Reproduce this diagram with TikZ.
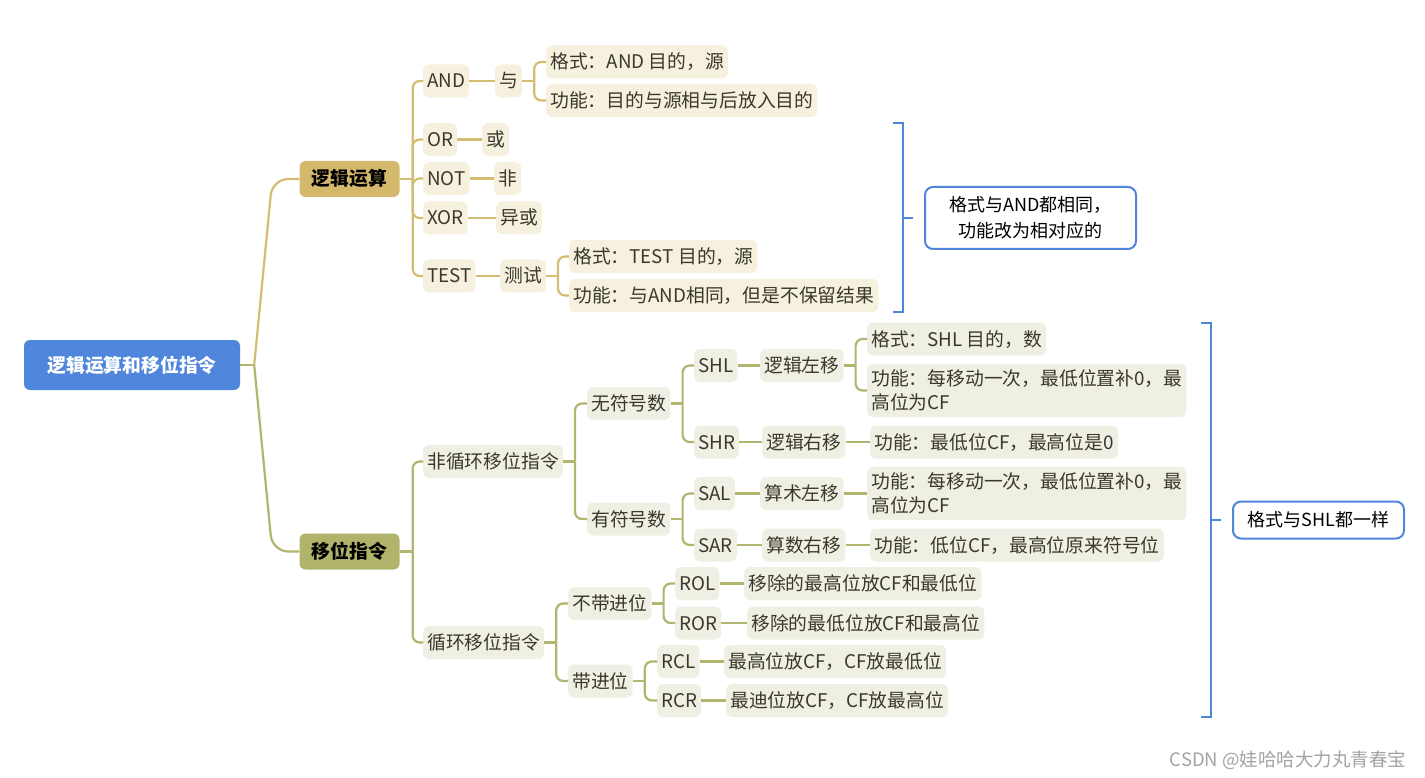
\documentclass[tikz,border=0pt]{standalone}
\usepackage{fontspec}
\newfontfamily\cjk{Noto Sans CJK SC}
\usetikzlibrary{positioning}
\definecolor{MindBlue}{HTML}{4F86DB}
\definecolor{MindGold}{HTML}{D4B96C}
\definecolor{MindOlive}{HTML}{B0B46A}
\definecolor{GoldPale}{HTML}{F6F0DF}
\definecolor{OlivePale}{HTML}{EFF0E3}
\definecolor{GoldLine}{HTML}{D4BC72}
\definecolor{OliveLine}{HTML}{B1B56E}
\definecolor{MindText}{HTML}{3A382C}
\definecolor{MarkGray}{HTML}{A3A3A3}

\begin{document}
\begin{tikzpicture}[x=1pt,y=-1pt,font=\cjk\fontsize{18.8pt}{24pt}\selectfont,
    rt/.style={rounded corners=6pt,fill=MindBlue,text=white,minimum width=216pt,minimum height=50pt,text height=16pt,text depth=2pt,font=\cjk\bfseries\fontsize{18.8pt}{22pt}\selectfont},
    tp/.style={rounded corners=6pt,minimum width=100pt,minimum height=36pt,inner sep=0pt,text height=16pt,text depth=2pt,text=black,font=\cjk\bfseries\fontsize{18.8pt}{22pt}\selectfont},
    lf/.style={anchor=west,rounded corners=6pt,inner xsep=4pt,inner ysep=0pt,minimum height=33pt,text height=16pt,text depth=2pt,text=MindText},
    lg/.style={lf,fill=GoldPale}, lo/.style={lf,fill=OlivePale},
    lo2/.style={anchor=west,rounded corners=6pt,inner xsep=4pt,inner ysep=6pt,align=left,fill=OlivePale,text=MindText},
    wg/.style={draw=GoldLine,line width=2.2pt}, wo/.style={draw=OliveLine,line width=2.2pt}, wr/.style={rounded corners=7pt},
    brk/.style={draw=MindBlue,line width=2pt},
    nt/.style={anchor=west,draw=MindBlue,line width=2pt,rounded corners=8pt,fill=white,align=center,text=black,inner sep=0pt}]
  \fill[white] (0,0) rectangle (1425,778); \useasboundingbox (0,0) rectangle (1425,778);
  % root and main branches
  \node[rt] (root) at (132,365) {逻辑运算和移位指令};
  \node[tp,fill=MindGold] (logic) at (349.5,179) {逻辑运算}; \node[tp,fill=MindOlive] (shift) at (349.5,551.5) {移位指令};
  \draw[wo] (root.east) -- ++(14,0) coordinate (rj);
  \draw[wg,rounded corners=16pt] (rj) -- ([xshift=-27pt]logic.west) -- (logic.west);
  \draw[wo,rounded corners=16pt] (rj) -- ([xshift=-27pt]shift.west) -- (shift.west);
  % logic operations
  \node[lg] (and) at (423,81) {AND}; \node[lg] (yu) at (495,81) {与};
  \node[lg] (andfmt) at (546,62) {格式：AND 目的，源}; \node[lg] (andfun) at (546,100.5) {功能：目的与源相与后放入目的};
  \node[lg] (or) at (423,139.5) {OR}; \node[lg] (huo) at (482,139.5) {或};
  \node[lg] (not) at (423,178.5) {NOT}; \node[lg] (fei) at (494,178.5) {非};
  \node[lg] (xor) at (423,218) {XOR}; \node[lg] (yihuo) at (496,218) {异或};
  \node[lg] (test) at (423,276) {TEST}; \node[lg] (ceshi) at (500,276) {测试};
  \node[lg] (testfmt) at (569,256.5) {格式：TEST 目的，源}; \node[lg] (testfun) at (569,295.5) {功能：与AND相同，但是不保留结果};
  \draw[wg] (logic.east) -- ++(13,0) coordinate (lj);
  \foreach \c in {and,or,not,xor,test} \draw[wg,wr] (lj) |- (\c.west);
  \draw[wg] (and.east) -- (yu.west); \draw[wg] (or.east) -- (huo.west); \draw[wg] (not.east) -- (fei.west);
  \draw[wg] (xor.east) -- (yihuo.west); \draw[wg] (test.east) -- (ceshi.west);
  \draw[wg] (yu.east) -- ++(12,0) coordinate (yj); \foreach \c in {andfmt,andfun} \draw[wg,wr] (yj) |- (\c.west);
  \draw[wg] (ceshi.east) -- ++(12,0) coordinate (cj); \foreach \c in {testfmt,testfun} \draw[wg,wr] (cj) |- (\c.west);
  % shift instructions
  \node[lo] (noloop) at (423,461.5) {非循环移位指令}; \node[lo] (loop) at (423,642.5) {循环移位指令};
  \node[lo] (unsig) at (587,403.5) {无符号数}; \node[lo] (sig) at (587,519) {有符号数};
  \node[lo] (shl) at (694,365.5) {SHL}; \node[lo] (shlcn) at (760,365.5) {逻辑左移};
  \node[lo] (shlfmt) at (867,339) {格式：SHL 目的，数}; \node[lo2] (shlfun) at (867,390.5) {功能：每移动一次，最低位置补0，最\\高位为CF};
  \node[lo] (shr) at (694,442) {SHR}; \node[lo] (shrcn) at (762,442) {逻辑右移}; \node[lo] (shrfun) at (870,442) {功能：最低位CF，最高位是0};
  \node[lo] (sal) at (694,493.5) {SAL}; \node[lo] (salcn) at (760,493.5) {算术左移};
  \node[lo2] (salfun) at (867,493.5) {功能：每移动一次，最低位置补0，最\\高位为CF};
  \node[lo] (sar) at (694,545) {SAR}; \node[lo] (sarcn) at (762,545) {算数右移}; \node[lo] (sarfun) at (870,545) {功能：低位CF，最高位原来符号位};
  \node[lo] (nocarry) at (568,603.5) {不带进位}; \node[lo] (carry) at (568,681) {带进位};
  \node[lo] (rol) at (675,583.5) {ROL}; \node[lo] (rolfun) at (744,583.5) {移除的最高位放CF和最低位};
  \node[lo] (ror) at (675,623) {ROR}; \node[lo] (rorfun) at (747,623) {移除的最低位放CF和最高位};
  \node[lo] (rcl) at (657,661.5) {RCL}; \node[lo] (rclfun) at (724,661.5) {最高位放CF，CF放最低位};
  \node[lo] (rcr) at (657,700.5) {RCR}; \node[lo] (rcrfun) at (726,700.5) {最迪位放CF，CF放最高位};
  \draw[wo] (shift.east) -- ++(13,0) coordinate (sj); \foreach \c in {noloop,loop} \draw[wo,wr] (sj) |- (\c.west);
  \draw[wo] (noloop.east) -- ++(12,0) coordinate (nj); \foreach \c in {unsig,sig} \draw[wo,wr] (nj) |- (\c.west);
  \draw[wo] (unsig.east) -- ++(12,0) coordinate (uj); \foreach \c in {shl,shr} \draw[wo,wr] (uj) |- (\c.west);
  \draw[wo] (sig.east) -- ++(12,0) coordinate (gj); \foreach \c in {sal,sar} \draw[wo,wr] (gj) |- (\c.west);
  \draw[wo] (shlcn.east) -- ++(12,0) coordinate (hj); \foreach \c in {shlfmt,shlfun} \draw[wo,wr] (hj) |- (\c.west);
  \draw[wo] (shl.east) -- (shlcn.west); \draw[wo] (shr.east) -- (shrcn.west); \draw[wo] (shrcn.east) -- (shrfun.west);
  \draw[wo] (sal.east) -- (salcn.west); \draw[wo] (salcn.east) -- (salfun.west);
  \draw[wo] (sar.east) -- (sarcn.west); \draw[wo] (sarcn.east) -- (sarfun.west);
  \draw[wo] (loop.east) -- ++(12,0) coordinate (pj); \foreach \c in {nocarry,carry} \draw[wo,wr] (pj) |- (\c.west);
  \draw[wo] (nocarry.east) -- ++(12,0) coordinate (aj); \foreach \c in {rol,ror} \draw[wo,wr] (aj) |- (\c.west);
  \draw[wo] (carry.east) -- ++(12,0) coordinate (bj); \foreach \c in {rcl,rcr} \draw[wo,wr] (bj) |- (\c.west);
  \draw[wo] (rol.east) -- (rolfun.west); \draw[wo] (ror.east) -- (rorfun.west);
  \draw[wo] (rcl.east) -- (rclfun.west); \draw[wo] (rcr.east) -- (rcrfun.west);
  % summaries
  \draw[brk] (893,123) -- (903,123) -- (903,312) -- (893,312); \draw[brk] (903,218) -- ++(10,0);
  \node[nt,minimum width=211pt,minimum height=62pt,font=\cjk\fontsize{18pt}{26pt}\selectfont] (note1) at (924,218) {格式与AND都相同，\\ 功能改为相对应的};
  \draw[brk] (1201,323) -- (1211,323) -- (1211,717) -- (1201,717); \draw[brk] (1211,520) -- ++(10,0);
  \node[nt,minimum width=171pt,minimum height=37pt,font=\cjk\fontsize{18pt}{22pt}\selectfont] (note2) at (1232,520) {格式与SHL都一样};
  \node[anchor=east,text=MarkGray,font=\cjk\fontsize{18.5pt}{20pt}\selectfont] (mark) at (1410,760) {CSDN @娃哈哈大力丸青春宝};
\end{tikzpicture}
\end{document}
